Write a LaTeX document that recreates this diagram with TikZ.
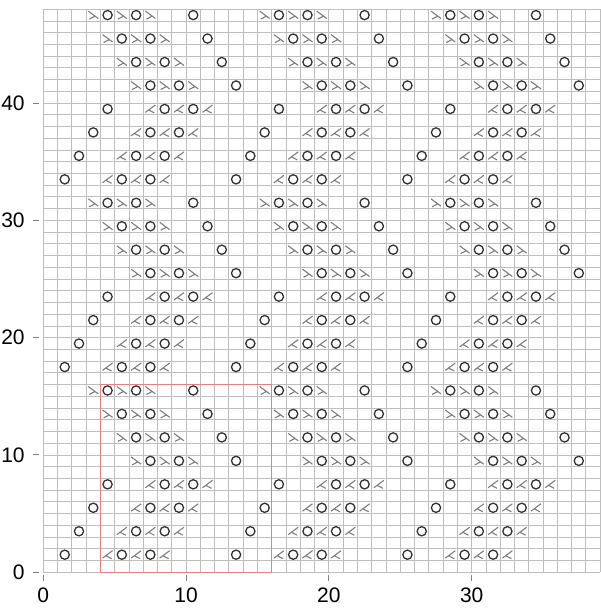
\documentclass[tikz,border=0pt]{standalone}
\usepackage{fontspec}
\setmainfont{Liberation Sans}
\definecolor{gridgray}{RGB}{190,190,190}
\definecolor{yocol}{RGB}{50,50,50}
\definecolor{deccol}{RGB}{125,125,125}
\definecolor{boxred}{RGB}{228,130,130}
\begin{document}
\begin{tikzpicture}[x=7.14pt,y=5.865pt,
  gridline/.style={draw=gridgray,line width=0.45pt},
  yostyle/.style={draw=yocol,line width=0.65pt},
  decstyle/.style={draw=deccol,line width=0.55pt},
  repbox/.style={draw=boxred,line width=0.55pt},
  tickmark/.style={draw=black!50,line width=0.5pt},
  ticklab/.style={font=\fontsize{10.5}{12}\selectfont,text=black,inner sep=0pt},
  yarn/.pic={\draw[yostyle] (0,0) circle[radius=2.3pt];},
  ktog/.pic={\draw[decstyle] (2.5pt,2.0pt) -- (-2.5pt,-1.7pt) (-0.9pt,-0.5pt) -- (2.0pt,-2.0pt);},
  sskd/.pic={\draw[decstyle] (-2.5pt,2.0pt) -- (2.5pt,-1.7pt) (0.9pt,-0.5pt) -- (-2.0pt,-2.0pt);}]
\useasboundingbox (-21.65pt,-18.85pt) rectangle (278.35pt,286.15pt);
% grid
\foreach \i in {0,...,39} \draw[gridline] (\i,0) -- (\i,48);
\foreach \j in {0,...,48} \draw[gridline] (0,\j) -- (39,\j);
% symbols
\foreach \v in {0,16,32}{
  \foreach \h in {0,12,24}{
    \foreach \k in {0,...,3}{
      % rows 1,3,5,7
      \pgfmathtruncatemacro{\r}{\v+2*\k+1}
      \pgfmathtruncatemacro{\ca}{1+\k+\h}
      \pic at (\ca+0.5,\r+0.5) {yarn};
      \foreach \d in {4,6,8}{
        \pic at (\d+\k+\h+0.5,\r+0.5) {ktog};
      }
      \foreach \d in {5,7}{
        \pic at (\d+\k+\h+0.5,\r+0.5) {yarn};
      }
      % rows 9,11,13,15
      \pgfmathtruncatemacro{\s}{\v+2*\k+9}
      \pgfmathtruncatemacro{\cb}{13-\k+\h}
      \pic at (\cb+0.5,\s+0.5) {yarn};
      \foreach \d in {6,8,10}{
        \pic at (\d-\k+\h+0.5,\s+0.5) {sskd};
      }
      \foreach \d in {7,9}{
        \pic at (\d-\k+\h+0.5,\s+0.5) {yarn};
      }
    }
  }
}
% repeat box
\draw[repbox] (4,0) rectangle (16,16);
% axes ticks and labels
\foreach \i in {0,10,20,30}{
  \draw[tickmark] (\i,-0.25) -- (\i,-0.72);
  \node[ticklab] (xl\i) at (\i,-1.93) {\i};
}
\foreach \j in {0,10,20,30,40}{
  \draw[tickmark] (-0.28,\j) -- (-0.70,\j);
  \node[ticklab,anchor=east] (yl\j) at (-1.28,\j) {\j};
}
\end{tikzpicture}
\end{document}
